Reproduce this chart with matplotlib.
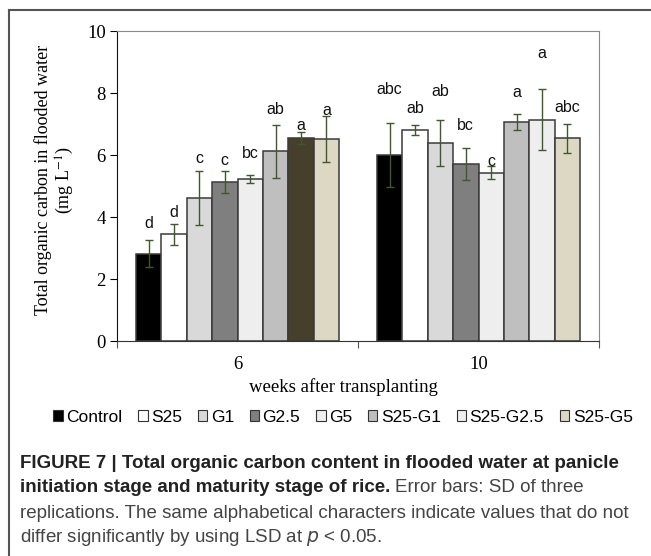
import numpy as np
import matplotlib
matplotlib.use("Agg")
import matplotlib.pyplot as plt
from matplotlib.patches import Patch
from matplotlib.lines import Line2D

# ---- data ----
weeks = ["6", "10"]
treatments = ["Control", "S25", "G1", "G2.5", "G5", "S25-G1", "S25-G2.5", "S25-G5"]

toc_wk6 = [2.82, 3.45, 4.61, 5.13, 5.23, 6.12, 6.54, 6.51]
sd_wk6 = [0.43, 0.34, 0.86, 0.36, 0.13, 0.86, 0.19, 0.75]
lsd_wk6 = ["d", "d", "c", "c", "bc", "ab", "a", "a"]

toc_wk10 = [6.01, 6.82, 6.39, 5.71, 5.43, 7.07, 7.14, 6.54]
sd_wk10 = [1.03, 0.16, 0.75, 0.52, 0.22, 0.25, 0.99, 0.47]
lsd_wk10 = ["abc", "ab", "ab", "bc", "c", "a", "a", "abc"]

# ---- styling ----
legend_colors = ["#000000", "#ffffff", "#d9d9d9", "#7f7f7f",
                 "#eeeeee", "#bfbfbf", "#eeeeee", "#ddd8c4"]
# week 6 S25-G2.5 bar is drawn dark olive in the original
colors_wk6 = legend_colors[:6] + ["#463f2b", "#ddd8c4"]
colors_wk10 = legend_colors
# letter offsets above the error bar tops (data units)
lift_wk6 = [0.53, 0.34, 0.43, 0.32, 0.70, 0.49, 0.23, 0.18]
lift_wk10 = [1.08, 0.52, 0.90, 0.71, 0.15, 0.69, 1.14, 0.53]

serif = "Liberation Serif"
sans = "Liberation Sans"
err_color = "#3e5a2c"

W, H = 651, 556
fig = plt.figure(figsize=(W / 100, H / 100), dpi=100)


def fx(px):
    return px / W


def fy(py):
    return 1 - py / H


ax = fig.add_axes([fx(117), fy(341), fx(599) - fx(117), fy(31) - fy(341)])

bw = 0.1054
groups = [(toc_wk6, sd_wk6, lsd_wk6, colors_wk6, lift_wk6),
          (toc_wk10, sd_wk10, lsd_wk10, colors_wk10, lift_wk10)]
for g, (vals, sds, lets, cols, lifts) in enumerate(groups):
    centre = g + 0.5
    x = centre + (np.arange(len(vals)) - 3.5) * bw
    ax.bar(x, vals, width=bw, color=cols, edgecolor="#3a3a3a", linewidth=1.1, zorder=2)
    ax.errorbar(x, vals, yerr=sds, fmt="none", ecolor=err_color, elinewidth=1.0,
                capsize=3, capthick=1.0, zorder=3)
    for xi, v, s, t, d in zip(x, vals, sds, lets, lifts):
        ax.text(xi, v + s + d, t, ha="center", va="center", family=sans,
                fontsize=11.5, color="#111111", zorder=4)

ax.set_xlim(0, 2)
ax.set_ylim(0, 10)
ax.set_yticks(np.arange(0, 11, 2))
ax.set_yticklabels([str(v) for v in range(0, 11, 2)], family=serif, fontsize=13.5)
ax.set_xticks([0, 1, 2])
ax.set_xticklabels([])
ax.set_xticks([0.5, 1.5], minor=True)
ax.set_xticklabels(weeks, minor=True, family=serif, fontsize=13.5)
ax.tick_params(axis="x", which="minor", length=0, pad=11)
ax.tick_params(axis="x", which="major", length=5, direction="out", color="#555555")
ax.tick_params(axis="y", length=5, direction="out", pad=3)
for side in ["top", "right"]:
    ax.spines[side].set_color("#8a8a8a")
ax.spines["left"].set_color("#111111")
ax.spines["bottom"].set_color("#333333")

fig.text(fx(55), fy(180), "Total organic carbon in flooded water\n(mg L$^{-1}$)",
         rotation=90, ha="center", va="center", family=serif, fontsize=13,
         linespacing=1.1, math_fontfamily="stix")
fig.text(fx(343), fy(387), "weeks after transplanting", ha="center", va="center",
         family=serif, fontsize=13.5)

handles = [Patch(facecolor=c, edgecolor="#333333", linewidth=0.8) for c in legend_colors]
fig.legend(handles, treatments, loc="center", bbox_to_anchor=(fx(343), fy(417)),
           ncol=8, frameon=False, prop={"family": sans, "size": 12.5},
           handlelength=0.55, handleheight=0.55, handletextpad=0.2,
           columnspacing=0.9, borderaxespad=0)

# outer frame (top and left edges visible in the crop)
fig.add_artist(Line2D([fx(9), 1], [fy(10), fy(10)], color="#555555", lw=1.5))
fig.add_artist(Line2D([fx(9), fx(9)], [fy(10), 0], color="#555555", lw=1.5))

# caption
cap_x = fx(20)
cap_size = 13.5
fig.text(cap_x, fy(463), "FIGURE 7 | Total organic carbon content in flooded water at panicle",
         family=sans, weight="bold", fontsize=cap_size, color="#222222", va="center")
bold2 = fig.text(cap_x, fy(488), "initiation stage and maturity stage of rice.",
                 family=sans, weight="bold", fontsize=cap_size, color="#222222", va="center")
fig.canvas.draw()
bb = bold2.get_window_extent()
fig.text(bb.x1 / W + fx(5), fy(488), "Error bars: SD of three",
         family=sans, fontsize=cap_size, color="#444444", va="center")
fig.text(cap_x, fy(513), "replications. The same alphabetical characters indicate values that do not",
         family=sans, fontsize=cap_size, color="#444444", va="center")
fig.text(cap_x, fy(538), "differ significantly by using LSD at $p$ < 0.05.",
         family=sans, fontsize=cap_size, color="#444444", va="center")

fig.savefig("out.png", dpi=100)
